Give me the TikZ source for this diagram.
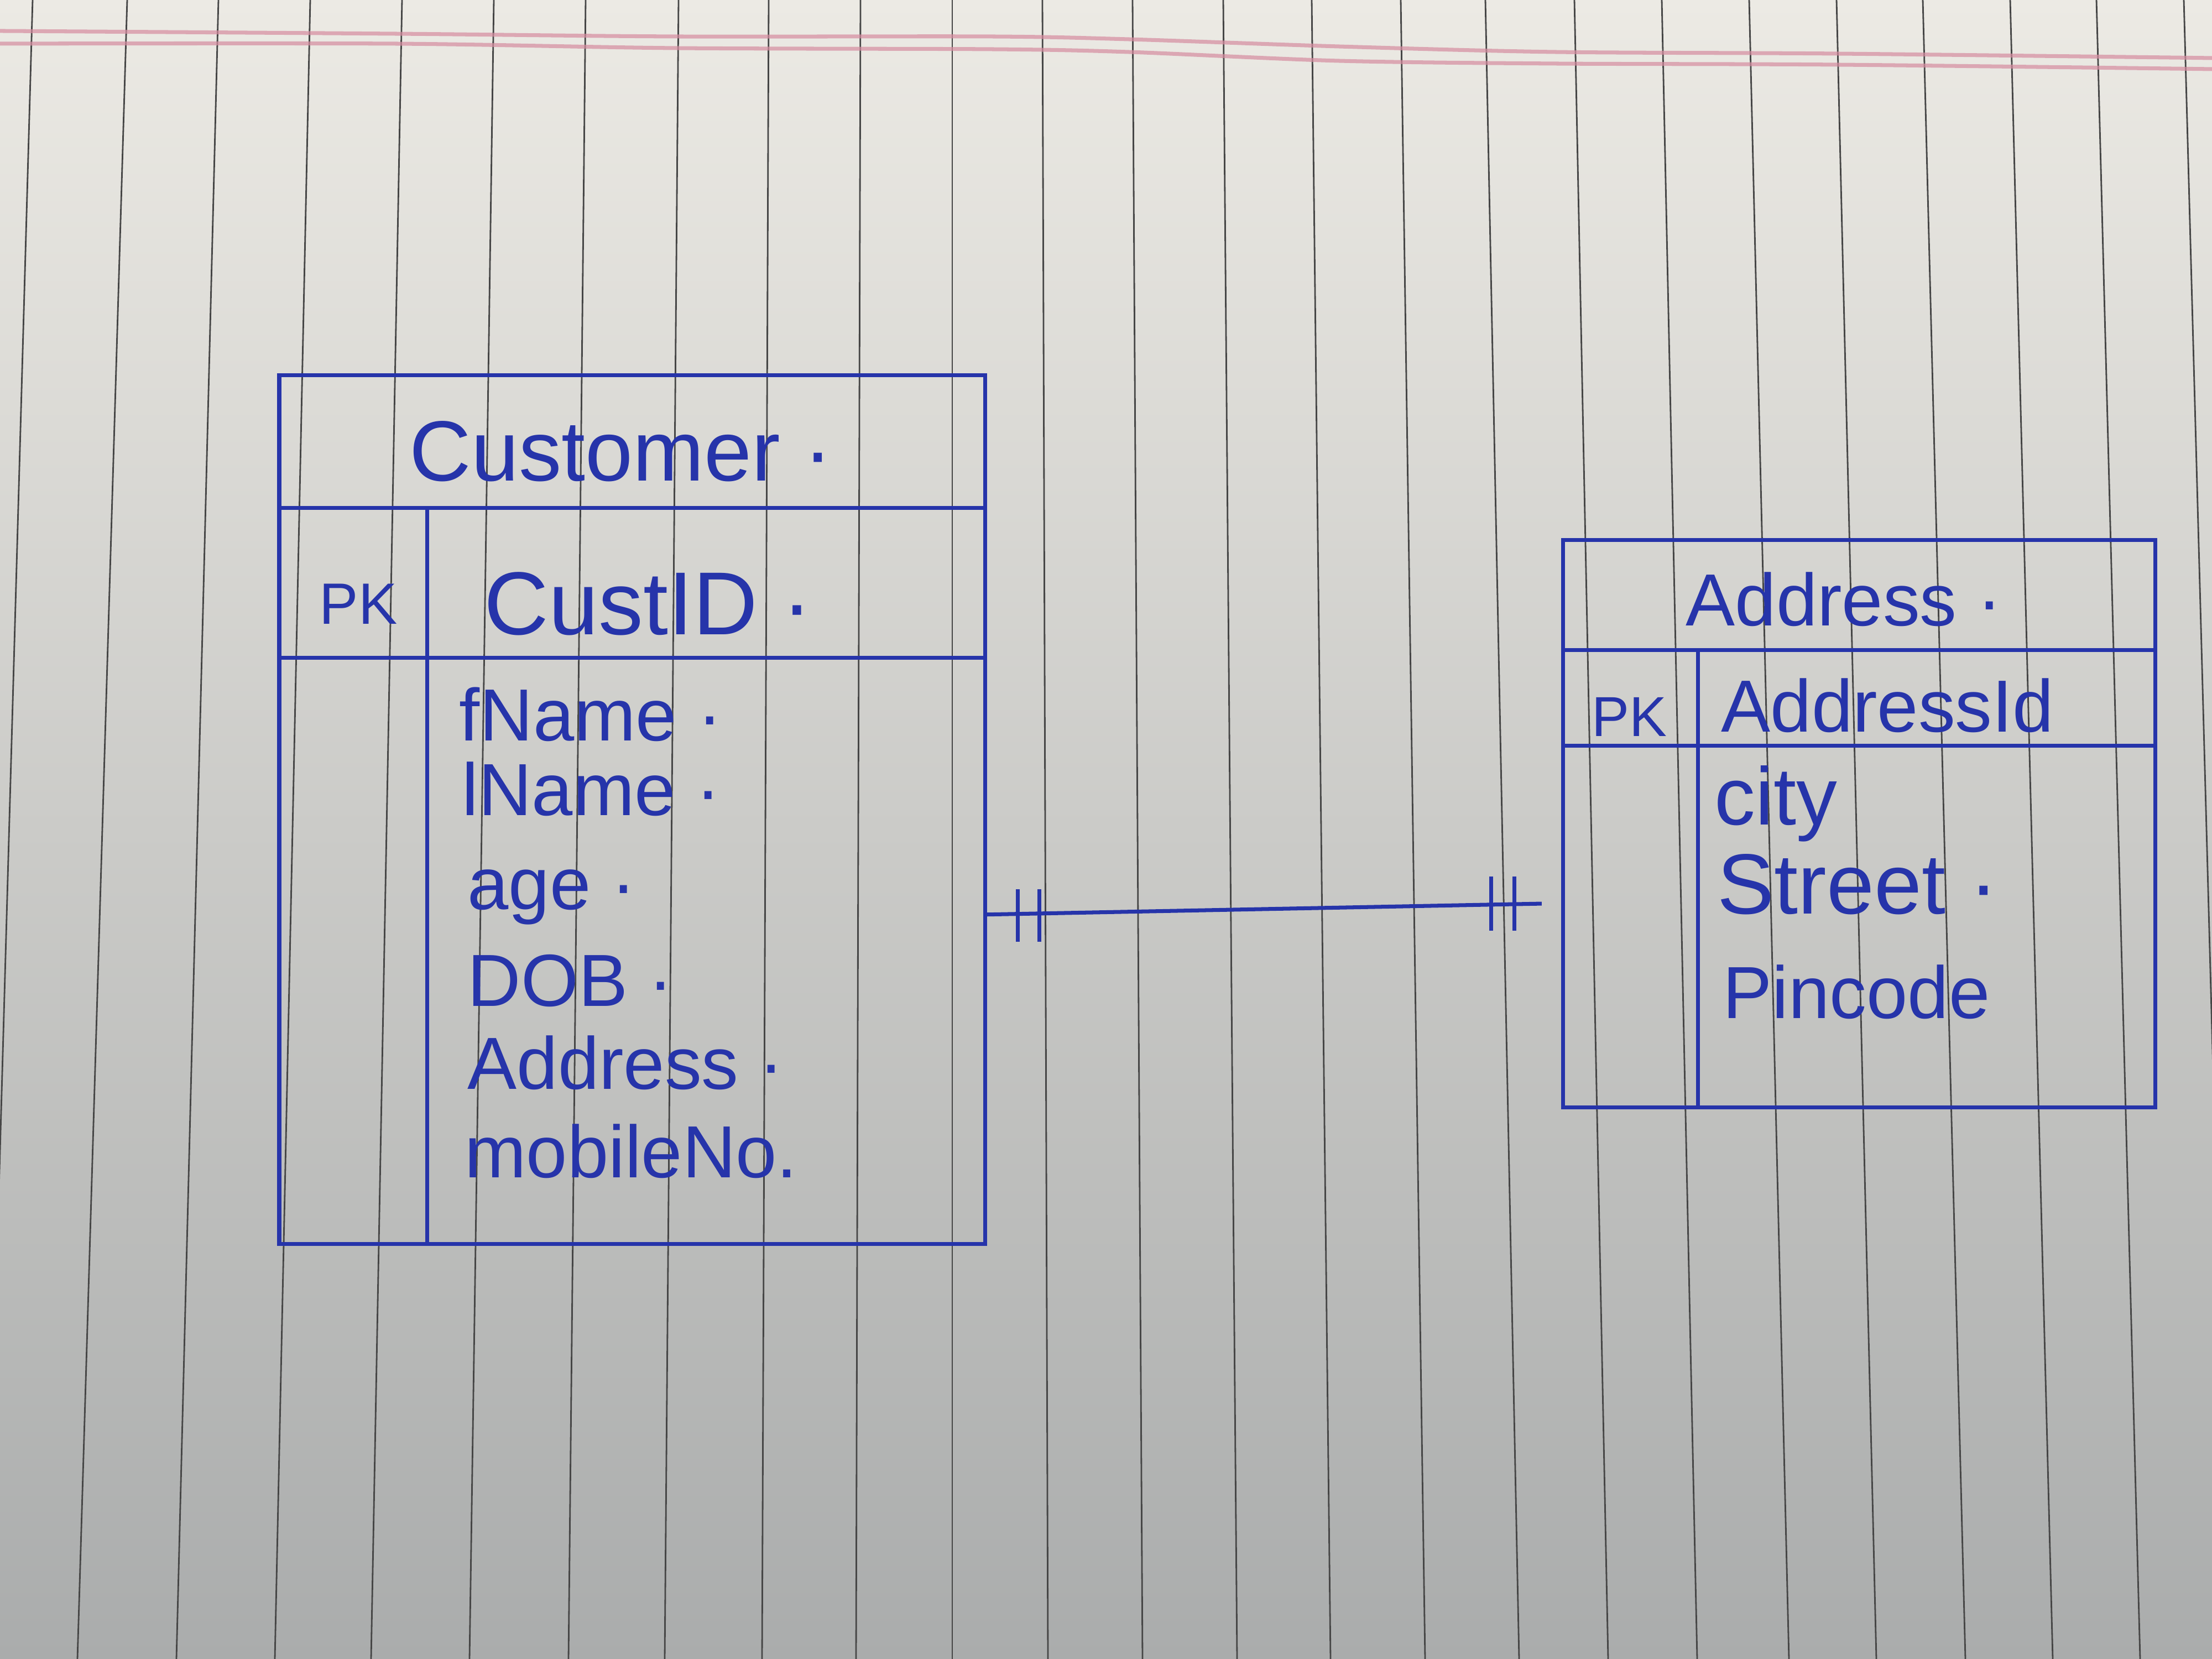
\documentclass[tikz,border=0pt]{standalone}
\usepackage{fontspec}
\setmainfont{Liberation Sans}

\definecolor{ink}{RGB}{38,52,170}
\definecolor{papertop}{RGB}{236,234,228}
\definecolor{papermid}{RGB}{216,215,208}
\definecolor{paperbot}{RGB}{170,172,172}
\definecolor{ruling}{RGB}{70,70,70}
\definecolor{marginpink}{RGB}{214,140,160}

\tikzset{
  pen/.style={draw=ink, line width=2pt},
  table/.style={pen, rectangle, inner sep=0pt},
  hand/.style={text=ink, inner sep=0pt},
  title/.style={hand, font=\fontsize{44}{50}\selectfont},
  keyname/.style={hand, font=\fontsize{30}{36}\selectfont},
  keyfield/.style={hand, font=\fontsize{46}{52}\selectfont},
  field/.style={hand, font=\fontsize{38}{44}\selectfont, anchor=base west},
  rulingline/.style={draw=ruling, line width=0.8pt},
  marginline/.style={draw=marginpink, line width=2pt, opacity=0.7}
}

\begin{document}
\begin{tikzpicture}
\useasboundingbox (0,0) rectangle (40,30);

% the sheet
\shade[top color=papertop, middle color=papermid, bottom color=paperbot] (0,0) rectangle (40,30);
\begin{scope}
\clip (0,0) rectangle (40,30);
\foreach \t/\b in {0.59/-0.26, 2.30/1.40, 3.95/3.19, 5.61/4.97, 7.27/6.71,
  8.93/8.49, 10.59/10.28, 12.27/12.02, 13.90/13.78, 15.56/15.48,
  17.22/17.22, 18.85/18.95, 20.48/20.66, 22.12/22.37, 23.72/24.06,
  25.33/25.77, 26.86/27.47, 28.47/29.08, 30.05/30.69, 31.63/32.35,
  33.21/33.93, 34.77/35.54, 36.35/37.12, 37.91/38.70, 39.49/40.31}
  \draw[rulingline] (\t,30) -- (\b,0);
\draw[marginline] plot[smooth] coordinates {(0,29.44) (7.1,29.39) (12.2,29.34)
  (17.9,29.34) (20.4,29.29) (24.2,29.16) (28.1,29.06) (33.2,29.03) (40,28.95)};
\draw[marginline] plot[smooth] coordinates {(0,29.21) (7.1,29.21) (12.2,29.13)
  (17.9,29.11) (20.4,29.06) (24.2,28.90) (28.1,28.85) (33.2,28.83) (40,28.75)};
\end{scope}

% Customer
\node[table, minimum width=12.76cm, minimum height=15.71cm] (cust) at (11.43,15.36) {};
\draw[pen] ([yshift=-2.44cm]cust.north west) -- ([yshift=-2.44cm]cust.north east);
\draw[pen] ([yshift=-5.15cm]cust.north west) -- ([yshift=-5.15cm]cust.north east);
\draw[pen] ([xshift=2.71cm,yshift=-2.44cm]cust.north west) -- ([xshift=2.71cm]cust.south west);

\node[title, anchor=west] (custname) at (7.40,21.84) {Customer ·};
\node[keyname] (custpk) at (6.48,19.08) {PK};
\node[keyfield, anchor=west] (custid) at (8.75,19.08) {CustID ·};
\node[field] (fname) at (8.30,16.60) {fName ·};
\node[field] (lname) at (8.35,15.25) {lName ·};
\node[field] (age) at (8.45,13.55) {age ·};
\node[field] (dob) at (8.45,11.80) {DOB ·};
\node[field] (custaddr) at (8.45,10.30) {Address ·};
\node[field] (mobile) at (8.40,8.70) {mobileNo.};

% Address
\node[table, minimum width=10.71cm, minimum height=10.26cm] (addr) at (33.62,15.10) {};
\draw[pen] ([yshift=-2.02cm]addr.north west) -- ([yshift=-2.02cm]addr.north east);
\draw[pen] ([yshift=-3.75cm]addr.north west) -- ([yshift=-3.75cm]addr.north east);
\draw[pen] ([xshift=2.47cm,yshift=-2.02cm]addr.north west) -- ([xshift=2.47cm]addr.south west);

\node[title, font=\fontsize{38}{44}\selectfont, anchor=west] (addrname) at (30.48,19.16) {Address ·};
\node[keyname, font=\fontsize{29}{34}\selectfont] (addrpk) at (29.46,17.04) {PK};
\node[keyfield, font=\fontsize{38}{44}\selectfont, anchor=west] (addrid) at (31.12,17.24) {AddressId};
\node[field, font=\fontsize{42}{48}\selectfont] (city) at (31.00,15.08) {city};
\node[field, font=\fontsize{44}{50}\selectfont] (street) at (31.05,13.47) {Street ·};
\node[field, font=\fontsize{38}{44}\selectfont] (pin) at (31.15,11.58) {Pincode};

% one to one
\draw[pen] ([yshift=-54pt]cust.east) -- ([xshift=-10pt,yshift=-41pt]addr.west);

\draw[pen] ([xshift=16pt,yshift=-41pt]cust.east) -- ([xshift=16pt,yshift=-68pt]cust.east);
\draw[pen] ([xshift=27pt,yshift=-41pt]cust.east) -- ([xshift=27pt,yshift=-68pt]cust.east);
\draw[pen] ([xshift=-36pt,yshift=-27pt]addr.west) -- ([xshift=-36pt,yshift=-55pt]addr.west);
\draw[pen] ([xshift=-24pt,yshift=-27pt]addr.west) -- ([xshift=-24pt,yshift=-55pt]addr.west);

\end{tikzpicture}
\end{document}
